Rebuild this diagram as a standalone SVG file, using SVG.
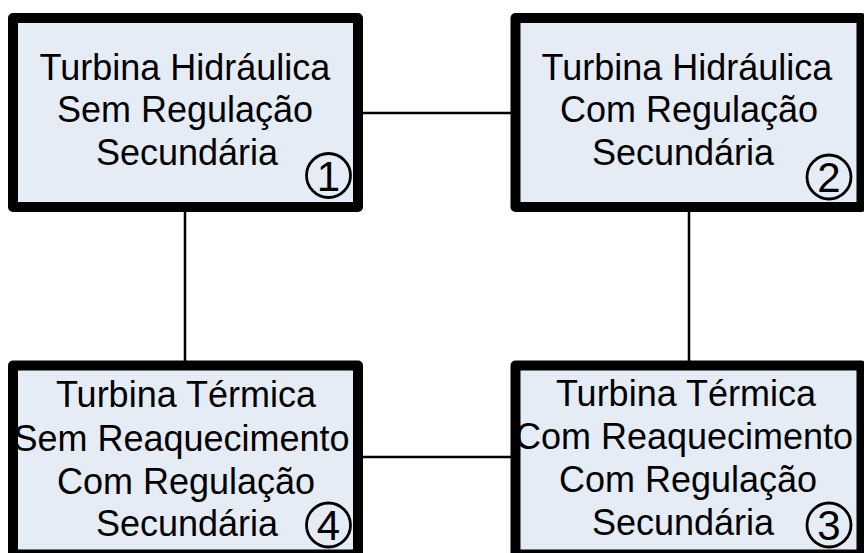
<svg xmlns="http://www.w3.org/2000/svg" width="864" height="553" viewBox="0 0 864 553">
<style>
.box{fill:#e6ecf6;stroke:#000;stroke-width:10;stroke-linejoin:round}
.t{font-family:"Liberation Sans",Arial,sans-serif;font-size:36px;fill:#000;text-anchor:middle}
.num{font-family:"Liberation Sans",Arial,sans-serif;font-size:42px;fill:#000;text-anchor:middle}
.c{fill:none;stroke:#000;stroke-width:2.8}
.conn{stroke:#000;stroke-width:2.5;fill:none}
</style>
<rect width="864" height="553" fill="#fff"/>
<g id="connectors">
<line class="conn" x1="358" y1="113" x2="515" y2="113"/>
<line class="conn" x1="185" y1="207" x2="185" y2="365"/>
<line class="conn" x1="689" y1="207" x2="689" y2="365"/>
<line class="conn" x1="358" y1="457" x2="515" y2="457"/>
</g>
<g id="node1">
<rect class="box" x="13" y="18" width="345" height="189"/>
<text class="t" x="185" y="79.5">Turbina Hidráulica</text>
<text class="t" x="185" y="122">Sem Regulação</text>
<text class="t" x="187" y="165">Secundária</text>
<circle class="c" cx="328.5" cy="175.5" r="22"/>
<text class="num" x="328.5" y="190.5">1</text>
</g>
<g id="node2">
<rect class="box" x="515.5" y="18" width="346" height="189"/>
<text class="t" x="687" y="79.5">Turbina Hidráulica</text>
<text class="t" x="689" y="122">Com Regulação</text>
<text class="t" x="683" y="165">Secundária</text>
<circle class="c" cx="829" cy="177" r="22"/>
<text class="num" x="829" y="192">2</text>
</g>
<g id="node3">
<rect class="box" x="515.5" y="365.5" width="346" height="189"/>
<text class="t" x="686" y="405.5">Turbina Térmica</text>
<text class="t" x="684" y="448.5">Com Reaquecimento</text>
<text class="t" x="688" y="492">Com Regulação</text>
<text class="t" x="683" y="535">Secundária</text>
<circle class="c" cx="829" cy="525" r="22"/>
<text class="num" x="829" y="540">3</text>
</g>
<g id="node4">
<rect class="box" x="13" y="365.5" width="345" height="189"/>
<text class="t" x="186" y="407">Turbina Térmica</text>
<text class="t" x="181.5" y="450.5">Sem Reaquecimento</text>
<text class="t" x="186" y="494">Com Regulação</text>
<text class="t" x="187" y="536">Secundária</text>
<circle class="c" cx="328.5" cy="525" r="22"/>
<text class="num" x="328.5" y="540">4</text>
</g>
</svg>
